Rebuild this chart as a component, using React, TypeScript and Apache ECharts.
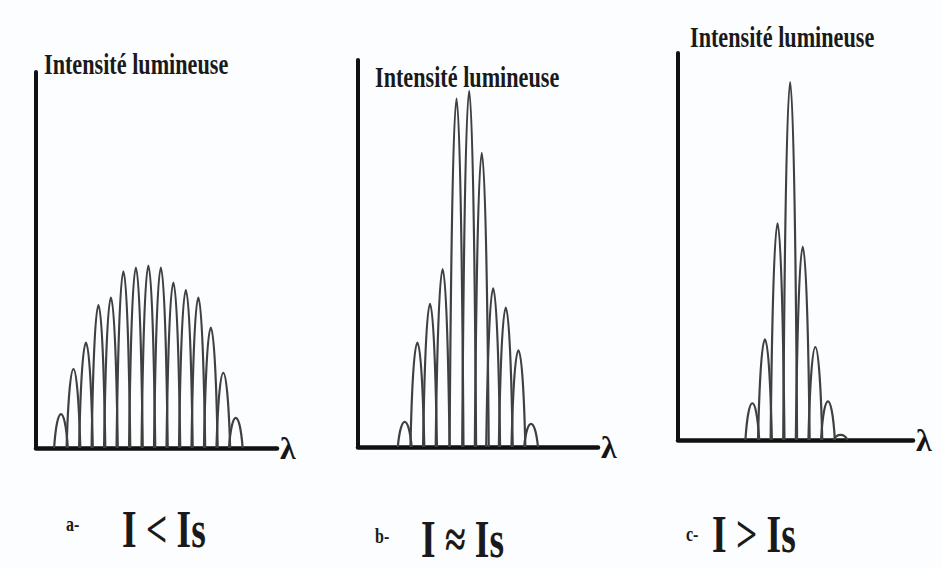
import React, { useEffect, useRef } from "react";
import * as echarts from "echarts";

// Fringe positions (in fringe-order units along λ) and peak intensities (0-100 scale)
const posA = [2, 3, 4, 5, 6, 7, 8, 9, 10, 11, 12, 13, 14, 15, 16];
const peakA = [9, 21, 28, 38, 40, 47, 48, 48.5, 48, 44, 42, 40, 32, 20, 8];

const posB = [3.7, 4.7, 5.7, 6.7, 7.8, 8.8, 9.8, 10.7, 11.7, 12.7, 13.7];
const peakB = [6.5, 27, 37, 46, 90, 92, 76, 41, 36, 25, 6];

const posC = [5.9, 6.9, 7.9, 8.9, 9.9, 10.9, 11.9, 12.9];
const peakC = [9.5, 26, 56, 92.5, 50, 24, 10, 1.3];

const yTitle = "Intensité lumineuse";
const xName = "λ";
const panelTags = ["a-", "b-", "c-"];
const panelConds = ["I < Is", "I ≈ Is", "I > Is"];

const FONT = "'Liberation Serif', 'DejaVu Serif', serif";

export default function App() {
  const ref = useRef<HTMLDivElement>(null);

  useEffect(() => {
    if (!ref.current) return;
    const chart = echarts.init(ref.current, undefined, { renderer: "svg" });

    const grids = [
      { left: 36, top: 72, width: 241, height: 376 },
      { left: 358, top: 60, width: 240, height: 387 },
      { left: 678, top: 53, width: 235, height: 387 },
    ];
    const xMax = [19.3, 19.0, 18.65];

    const mkX = (i: number) => ({
      type: "value",
      gridIndex: i,
      min: 0,
      max: xMax[i],
      name: xName,
      nameLocation: "end",
      nameGap: 3,
      nameTextStyle: {
        fontFamily: FONT,
        fontWeight: "bold",
        fontSize: 32,
        color: "#151515",
        verticalAlign: "middle",
        padding: [0, 0, 6, 0],
      },
      axisLine: { show: true, lineStyle: { color: "#111", width: 4.5 } },
      axisTick: { show: false },
      axisLabel: { show: false },
      splitLine: { show: false },
    });
    const mkY = (i: number) => ({
      type: "value",
      gridIndex: i,
      min: 0,
      max: 100,
      axisLine: { show: true, lineStyle: { color: "#111", width: 4 } },
      axisTick: { show: false },
      axisLabel: { show: false },
      splitLine: { show: false },
    });

    const renderHump = (params: any, api: any) => {
      const x = api.value(0);
      const h = api.value(1);
      const w = 0.55;
      const p0 = api.coord([x - w, 0]);
      const p1 = api.coord([x + w, 0]);
      const c1 = api.coord([x - w * 0.55, h / 0.75]);
      const c2 = api.coord([x + w * 0.55, h / 0.75]);
      return {
        type: "bezierCurve",
        shape: {
          x1: p0[0], y1: p0[1],
          x2: p1[0], y2: p1[1],
          cpx1: c1[0], cpy1: c1[1],
          cpx2: c2[0], cpy2: c2[1],
        },
        style: { stroke: "#404040", lineWidth: 2.2, fill: null },
      };
    };

    const mkSeries = (i: number, pos: number[], peaks: number[]) => ({
      type: "custom",
      xAxisIndex: i,
      yAxisIndex: i,
      renderItem: renderHump,
      data: pos.map((p, k) => [p, peaks[k]]),
      clip: false,
      silent: true,
    });

    const titlePos = [
      { x: 44, y: 64 },
      { x: 375, y: 77 },
      { x: 690, y: 37 },
    ];
    const tagPos = [
      { x: 66, y: 524 },
      { x: 375, y: 536 },
      { x: 686, y: 534 },
    ];
    const condPos = [
      { x: 122, y: 530 },
      { x: 421, y: 540 },
      { x: 712, y: 535 },
    ];

    const graphic: any[] = [];
    for (let i = 0; i < 3; i++) {
      graphic.push({
        type: "text",
        x: titlePos[i].x,
        y: titlePos[i].y,
        scaleX: 0.74,
        style: {
          text: yTitle,
          font: `bold 30px ${FONT}`,
          fill: "#1a1a1a",
          textAlign: "left",
          textVerticalAlign: "middle",
        },
      });
      graphic.push({
        type: "text",
        x: tagPos[i].x,
        y: tagPos[i].y,
        scaleX: 0.8,
        style: {
          text: panelTags[i],
          font: `bold 20px ${FONT}`,
          fill: "#1a1a1a",
          textAlign: "left",
          textVerticalAlign: "middle",
        },
      });
      graphic.push({
        type: "text",
        x: condPos[i].x,
        y: condPos[i].y,
        scaleX: 0.72,
        style: {
          text: panelConds[i],
          font: `bold 52px ${FONT}`,
          fill: "#1a1a1a",
          textAlign: "left",
          textVerticalAlign: "middle",
        },
      });
    }

    chart.setOption({
      animation: false,
      backgroundColor: "#fbfdfe",
      grid: grids,
      xAxis: [0, 1, 2].map(mkX),
      yAxis: [0, 1, 2].map(mkY),
      series: [
        mkSeries(0, posA, peakA),
        mkSeries(1, posB, peakB),
        mkSeries(2, posC, peakC),
      ],
      graphic,
    });

    return () => chart.dispose();
  }, []);

  return (
    <div
      ref={ref}
      style={{ position: "fixed", left: 0, top: 0, width: 942, height: 568 }}
    />
  );
}
